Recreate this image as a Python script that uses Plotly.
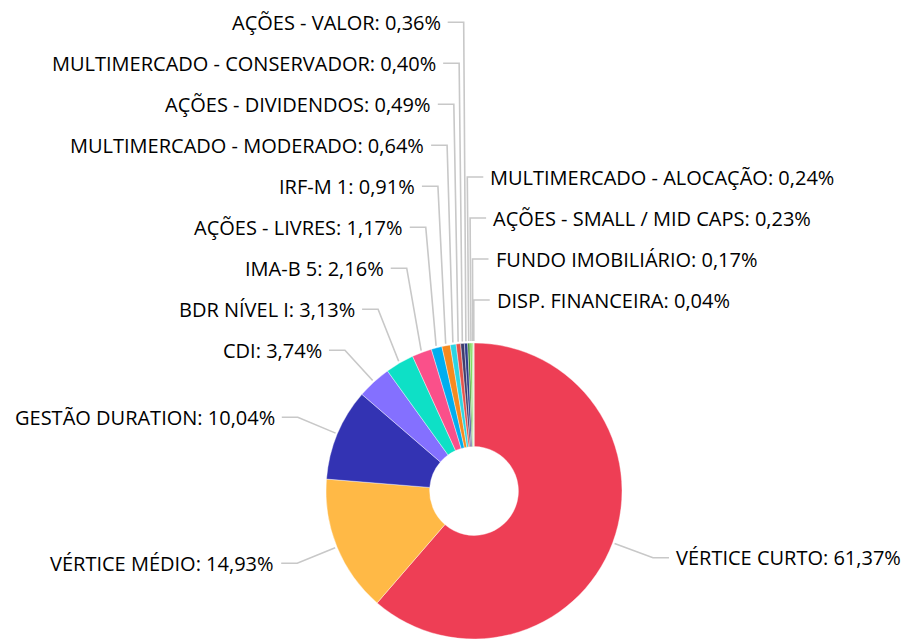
import math
import plotly.graph_objects as go

# ---------------- data ----------------
labels = [
    "VÉRTICE CURTO", "VÉRTICE MÉDIO", "GESTÃO DURATION", "CDI", "BDR NÍVEL I",
    "IMA-B 5", "AÇÕES - LIVRES", "IRF-M 1", "MULTIMERCADO - MODERADO",
    "AÇÕES - DIVIDENDOS", "MULTIMERCADO - CONSERVADOR", "AÇÕES - VALOR",
    "MULTIMERCADO - ALOCAÇÃO", "AÇÕES - SMALL / MID CAPS", "FUNDO IMOBILIÁRIO",
    "DISP. FINANCEIRA",
]
values = [61.37, 14.93, 10.04, 3.74, 3.13, 2.16, 1.17, 0.91, 0.64,
          0.49, 0.40, 0.36, 0.24, 0.23, 0.17, 0.04]
colors = ["#ee3e55", "#ffb946", "#3333b3", "#8470ff", "#0ee0c6", "#fa508a",
          "#00aeef", "#f68a1f", "#2cd5e3", "#e5534b", "#3f3d6b", "#2e3a8c",
          "#3e8c2c", "#6fd64b", "#9ae27f", "#cdeec0"]

# ---------------- layout constants ----------------
W, H = 904, 639                    # figure size (page body margin removed)
CX, CY, R = 474, 491, 150          # pie centre / radius (px)
HOLE = 0.30
LABEL_R = R + 41                   # radius of the tick bend
SPACING = 41                       # min vertical gap between labels
TICK = 16                          # horizontal tick length
GAP = 6                            # gap tick -> text
TOP_LIMIT = 0
FONT = dict(family="Open Sans", size=20, color="#000000")
LINE_COLOR = "#c8c8c8"


def fmt(v):
    return f"{v:.2f}".replace(".", ",") + "%"


total = sum(values)
mids = []
cum = 0.0
for v in values:
    mids.append(360.0 * (cum + v / 2) / total)
    cum += v

natural_y = [CY - LABEL_R * math.cos(math.radians(a)) for a in mids]

# left column: process from bottom to top (increasing angle)
left_idx = [i for i, a in enumerate(mids) if math.sin(math.radians(a)) < 0]
left_idx.sort(key=lambda i: mids[i])
label_y = {}
side = {}
overflow = []
prev = None
for i in left_idx:
    y = natural_y[i]
    if prev is not None:
        y = min(y, prev - SPACING)
    if y < TOP_LIMIT:
        overflow.append(i)
        continue
    label_y[i] = y
    side[i] = "left"
    prev = y

# right column: overflow labels sit above the right-hand slices
right_idx = [i for i, a in enumerate(mids) if math.sin(math.radians(a)) >= 0]
signed = {i: (mids[i] - 360 if i in overflow else mids[i]) for i in right_idx + overflow}
right_all = sorted(right_idx + overflow, key=lambda i: signed[i], reverse=True)
prev = None
for i in right_all:
    y = natural_y[i]
    if prev is not None:
        y = min(y, prev - SPACING)
    label_y[i] = y
    side[i] = "right"
    prev = y


def px(x):
    return x / W


def py(y):
    return 1 - y / H


shapes = []
annotations = []
for i, a in enumerate(mids):
    t = math.radians(a)
    ax, ay = CX + R * math.sin(t), CY - R * math.cos(t)
    bx, by = CX + LABEL_R * math.sin(t), label_y[i]
    if side[i] == "right":
        cxp = bx + TICK
        tx, anchor = cxp + GAP, "left"
    else:
        cxp = bx - TICK
        tx, anchor = cxp - GAP, "right"
    path = (f"M {px(ax)} {py(ay)} L {px(bx)} {py(by)} L {px(cxp)} {py(by)}")
    shapes.append(dict(type="path", path=path, xref="paper", yref="paper",
                       line=dict(color=LINE_COLOR, width=1.6), layer="below"))
    annotations.append(dict(x=px(tx), y=py(by), xref="paper", yref="paper",
                            text=f"{labels[i]}: {fmt(values[i])}",
                            showarrow=False, xanchor=anchor, yanchor="middle",
                            borderpad=0, font=FONT))

# pie is centred at CY; its lower part runs past the bottom edge of the page,
# so the domain is sized by width and its vertical extent kept within [0, 1]
dom_h = 2 * (H - CY) / H
fig = go.Figure(go.Pie(
    labels=labels, values=values, hole=HOLE, sort=False,
    direction="clockwise", rotation=0, textinfo="none",
    marker=dict(colors=colors, line=dict(color="#ffffff", width=0.4)),
    domain=dict(x=[px(CX - R), px(CX + R)], y=[0, dom_h]),
    hoverinfo="label+percent",
))
fig.update_layout(
    width=W, height=H, margin=dict(l=0, r=0, t=0, b=0),
    paper_bgcolor="white", plot_bgcolor="white", showlegend=False,
    shapes=shapes, annotations=annotations,
)
fig.write_html("out.html",
               config={"displayModeBar": False},
               post_script="document.body.style.margin='0';"
                           "document.body.style.overflow='hidden';")
